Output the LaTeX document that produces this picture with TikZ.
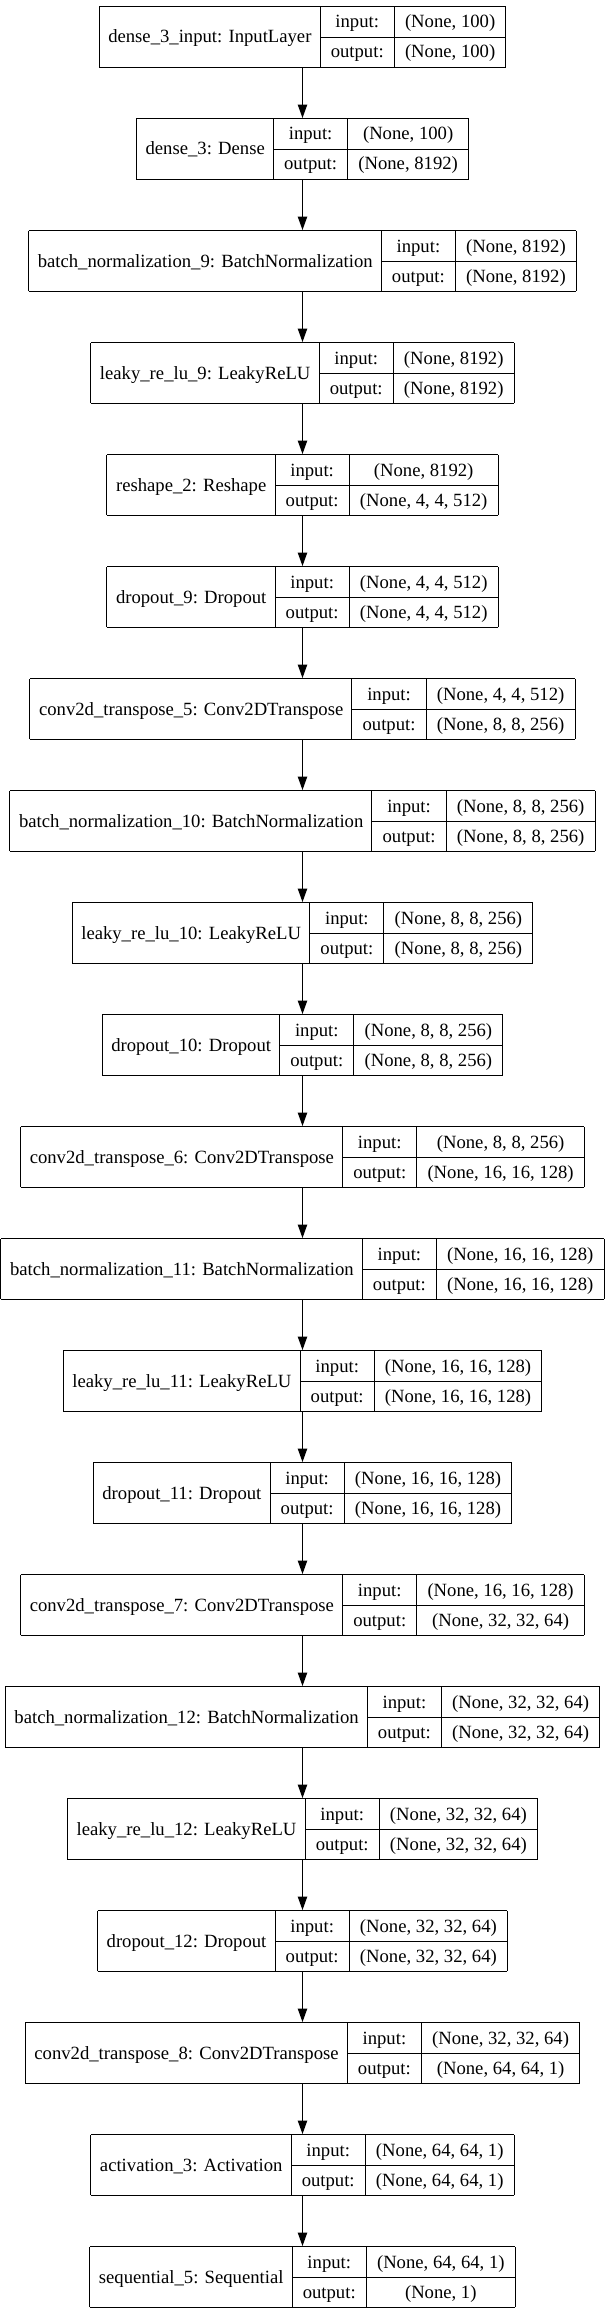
\documentclass[tikz,border=0pt]{standalone}
\usepackage{fontspec}
\setmainfont{Liberation Serif}
\usetikzlibrary{arrows.meta}

\setlength{\tabcolsep}{8pt}
\setlength{\arrayrulewidth}{0.75pt}
% one record: name | input/output | shapes
\newcommand{\layer}[3]{%
  \begin{tabular}{|@{\hspace{6.5pt}}c@{\hspace{6.5pt}}|c|c|}\hline
    \raisebox{-11.25pt}[0pt][0pt]{#1} & input: & #2\\ \cline{2-3}
    & output: & #3\\ \hline
  \end{tabular}}

\begin{document}
\begin{tikzpicture}[
            node distance=84pt,
            layer/.style={inner sep=0pt, outer sep=0pt, font=\fontsize{14}{22.5}\selectfont},
            flow/.style={-{Triangle[length=10pt,width=7pt]}, line width=0.75pt}
        ]
            \useasboundingbox (-226.875pt,0pt) rectangle (226.875pt,-1736.25pt);

            \node[layer] (in) at (0pt,-27.75pt) {\layer{dense\_3\_input: InputLayer}{(None, 100)}{(None, 100)}};
            \node[layer, below of=in] (d3) {\layer{dense\_3: Dense}{(None, 100)}{(None, 8192)}};
            \node[layer, below of=d3] (bn9) {\layer{batch\_normalization\_9: BatchNormalization}{(None, 8192)}{(None, 8192)}};
            \node[layer, below of=bn9] (lr9) {\layer{leaky\_re\_lu\_9: LeakyReLU}{(None, 8192)}{(None, 8192)}};
            \node[layer, below of=lr9] (rs2) {\layer{reshape\_2: Reshape}{(None, 8192)}{(None, 4, 4, 512)}};
            \node[layer, below of=rs2] (do9) {\layer{dropout\_9: Dropout}{(None, 4, 4, 512)}{(None, 4, 4, 512)}};
            \node[layer, below of=do9] (ct5) {\layer{conv2d\_transpose\_5: Conv2DTranspose}{(None, 4, 4, 512)}{(None, 8, 8, 256)}};
            \node[layer, below of=ct5] (bn10) {\layer{batch\_normalization\_10: BatchNormalization}{(None, 8, 8, 256)}{(None, 8, 8, 256)}};
            \node[layer, below of=bn10] (lr10) {\layer{leaky\_re\_lu\_10: LeakyReLU}{(None, 8, 8, 256)}{(None, 8, 8, 256)}};
            \node[layer, below of=lr10] (do10) {\layer{dropout\_10: Dropout}{(None, 8, 8, 256)}{(None, 8, 8, 256)}};
            \node[layer, below of=do10] (ct6) {\layer{conv2d\_transpose\_6: Conv2DTranspose}{(None, 8, 8, 256)}{(None, 16, 16, 128)}};
            \node[layer, below of=ct6] (bn11) {\layer{batch\_normalization\_11: BatchNormalization}{(None, 16, 16, 128)}{(None, 16, 16, 128)}};
            \node[layer, below of=bn11] (lr11) {\layer{leaky\_re\_lu\_11: LeakyReLU}{(None, 16, 16, 128)}{(None, 16, 16, 128)}};
            \node[layer, below of=lr11] (do11) {\layer{dropout\_11: Dropout}{(None, 16, 16, 128)}{(None, 16, 16, 128)}};
            \node[layer, below of=do11] (ct7) {\layer{conv2d\_transpose\_7: Conv2DTranspose}{(None, 16, 16, 128)}{(None, 32, 32, 64)}};
            \node[layer, below of=ct7] (bn12) {\layer{batch\_normalization\_12: BatchNormalization}{(None, 32, 32, 64)}{(None, 32, 32, 64)}};
            \node[layer, below of=bn12] (lr12) {\layer{leaky\_re\_lu\_12: LeakyReLU}{(None, 32, 32, 64)}{(None, 32, 32, 64)}};
            \node[layer, below of=lr12] (do12) {\layer{dropout\_12: Dropout}{(None, 32, 32, 64)}{(None, 32, 32, 64)}};
            \node[layer, below of=do12] (ct8) {\layer{conv2d\_transpose\_8: Conv2DTranspose}{(None, 32, 32, 64)}{(None, 64, 64, 1)}};
            \node[layer, below of=ct8] (act3) {\layer{activation\_3: Activation}{(None, 64, 64, 1)}{(None, 64, 64, 1)}};
            \node[layer, below of=act3] (seq5) {\layer{sequential\_5: Sequential}{(None, 64, 64, 1)}{(None, 1)}};

            \draw[flow] (in) -- (d3);
            \draw[flow] (d3) -- (bn9);
            \draw[flow] (bn9) -- (lr9);
            \draw[flow] (lr9) -- (rs2);
            \draw[flow] (rs2) -- (do9);
            \draw[flow] (do9) -- (ct5);
            \draw[flow] (ct5) -- (bn10);
            \draw[flow] (bn10) -- (lr10);
            \draw[flow] (lr10) -- (do10);
            \draw[flow] (do10) -- (ct6);
            \draw[flow] (ct6) -- (bn11);
            \draw[flow] (bn11) -- (lr11);
            \draw[flow] (lr11) -- (do11);
            \draw[flow] (do11) -- (ct7);
            \draw[flow] (ct7) -- (bn12);
            \draw[flow] (bn12) -- (lr12);
            \draw[flow] (lr12) -- (do12);
            \draw[flow] (do12) -- (ct8);
            \draw[flow] (ct8) -- (act3);
            \draw[flow] (act3) -- (seq5);
        \end{tikzpicture}
\end{document}
